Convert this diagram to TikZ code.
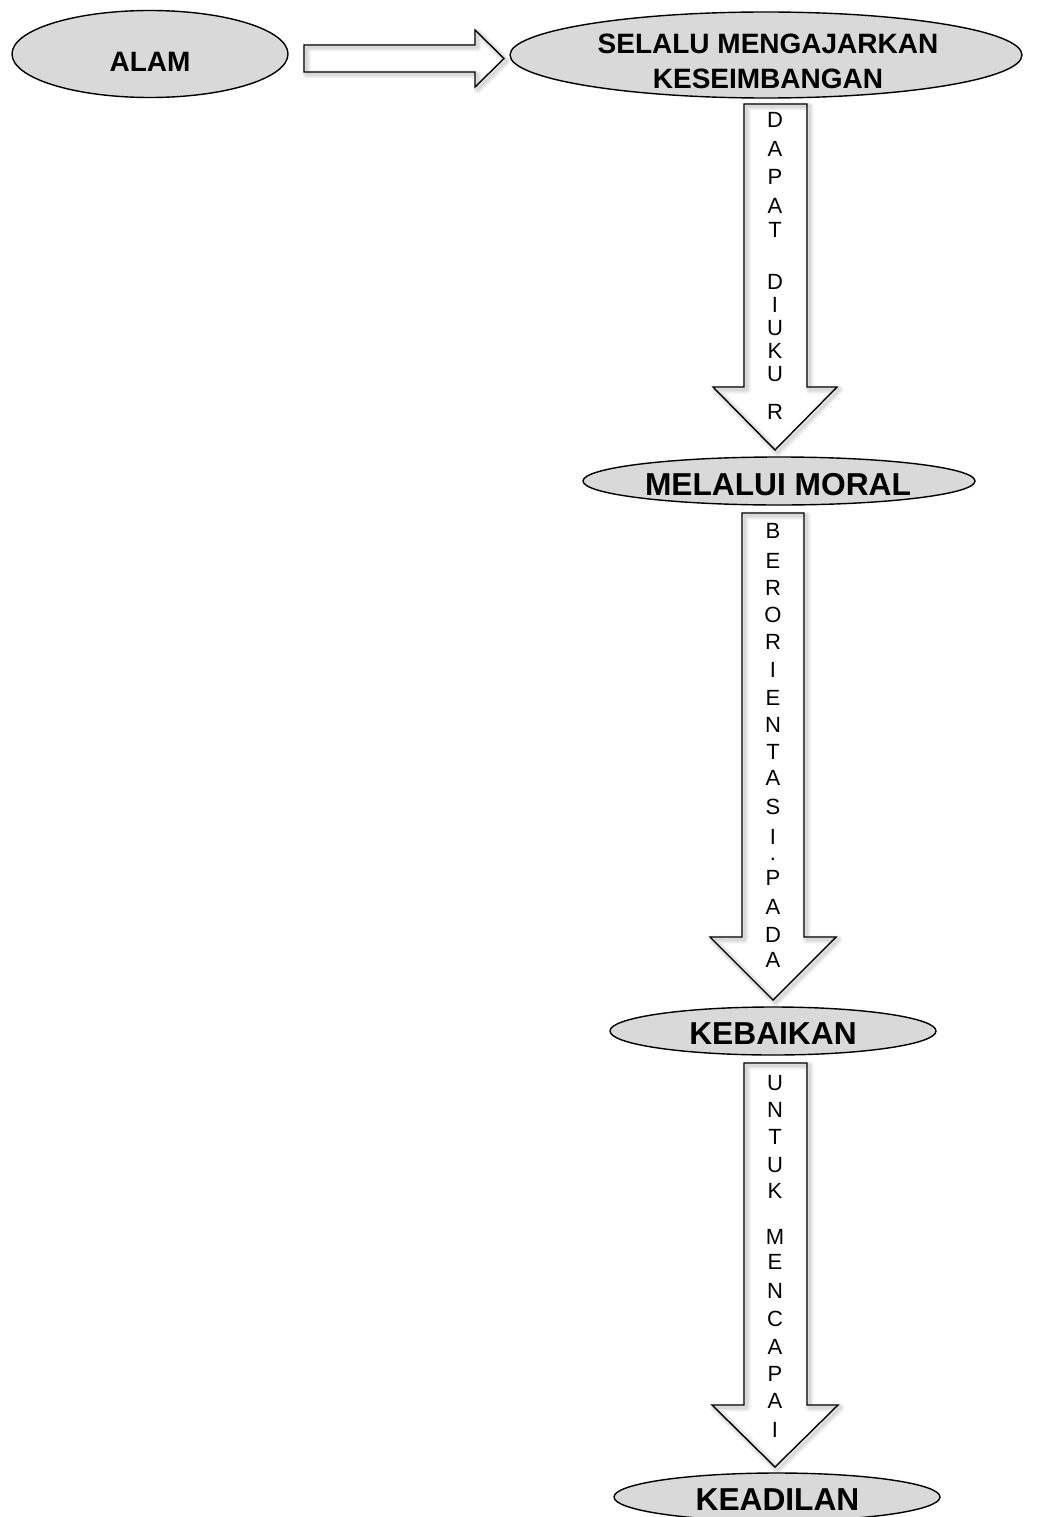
\documentclass[tikz,border=0pt]{standalone}
\usepackage{fontspec}
\setmainfont{Liberation Sans}
\usetikzlibrary{shapes.geometric}
\definecolor{bubblegray}{RGB}{217,217,217}

% a hollow block arrow with a soft shadow around its outline
\newcommand\blockshape[1]{%
  \fill[white] #1;
  \begin{scope}[transform canvas={xshift=2.5pt,yshift=-2.5pt}]
    \draw[black!6, line width=8pt, line join=round] #1;
    \draw[black!10, line width=5pt, line join=round] #1;
    \draw[black!15, line width=2.5pt, line join=round] #1;
  \end{scope}
  \draw[black, line width=1.4pt, line join=miter] #1;
}

\begin{document}
\begin{tikzpicture}[x=1pt,y=-1pt,
  bubble/.style={ellipse, draw=black, line width=1.4pt, fill=bubblegray, inner sep=0pt},
  title/.style={font=\bfseries\fontsize{28}{35}\selectfont, align=center, inner sep=0pt},
  bigtitle/.style={font=\bfseries\fontsize{31.7}{36}\selectfont, inner sep=0pt},
  stackletter/.style={font=\fontsize{22}{24}\selectfont, inner sep=0pt}]

\useasboundingbox (0,0) rectangle (1036,1517);
\clip (0,0) rectangle (1036,1517);

% block arrows
\blockshape{(304,45) -- (475,45) -- (475,30) -- (504,58.5) -- (475,87) -- (475,72) -- (304,72) -- cycle}
\blockshape{(744,104) -- (807,104) -- (807,387) -- (837,387) -- (775,450) -- (713,387) -- (744,387) -- cycle}
\blockshape{(742,513) -- (804,513) -- (804,937) -- (836,937) -- (773,1000) -- (710,937) -- (742,937) -- cycle}
\blockshape{(744,1063) -- (807,1063) -- (807,1405) -- (838,1405) -- (775,1467) -- (712,1405) -- (744,1405) -- cycle}

% ellipses
\node[bubble, minimum width=276pt, minimum height=87pt] (alam) at (150,54) {};
\node[title] (alamtext) at (150,62) {ALAM};

\node[bubble, minimum width=512pt, minimum height=86pt] (selalu) at (766,55) {};
\node[title] (selalutext) at (768,61.5) {SELALU MENGAJARKAN\\KESEIMBANGAN};

\node[bubble, minimum width=392pt, minimum height=48pt] (moral) at (779,481) {};
\node[bigtitle] (moraltext) at (778,484.5) {MELALUI MORAL};

\node[bubble, minimum width=326pt, minimum height=48pt] (kebaikan) at (773,1031) {};
\node[bigtitle] (kebaikantext) at (773,1033.5) {KEBAIKAN};

\node[bubble, minimum width=326pt, minimum height=48pt] (keadilan) at (777,1497) {};
\node[bigtitle] (keadilantext) at (777.5,1500) {KEADILAN};

% letters stacked inside the arrows
\foreach \c/\y [count=\i] in {D/120, A/149, P/177, A/206, T/230, D/282, I/305, U/328, K/351, U/374, R/412}
  \node[stackletter] (diukur-\i) at (775,\y) {\c};

\foreach \c/\y [count=\i] in {B/531, E/561, R/588, O/615, R/642, I/670, E/698, N/725, T/752, A/778, S/807, I/837, ./859, P/878, A/907, D/935, A/960}
  \node[stackletter] (orientasi-\i) at (773,\y) {\c};

\foreach \c/\y [count=\i] in {U/1083, N/1110, T/1137, U/1165, K/1191, M/1237, E/1262, N/1291, C/1319, A/1347, P/1374, A/1401, I/1430}
  \node[stackletter] (mencapai-\i) at (775,\y) {\c};

\end{tikzpicture}
\end{document}
